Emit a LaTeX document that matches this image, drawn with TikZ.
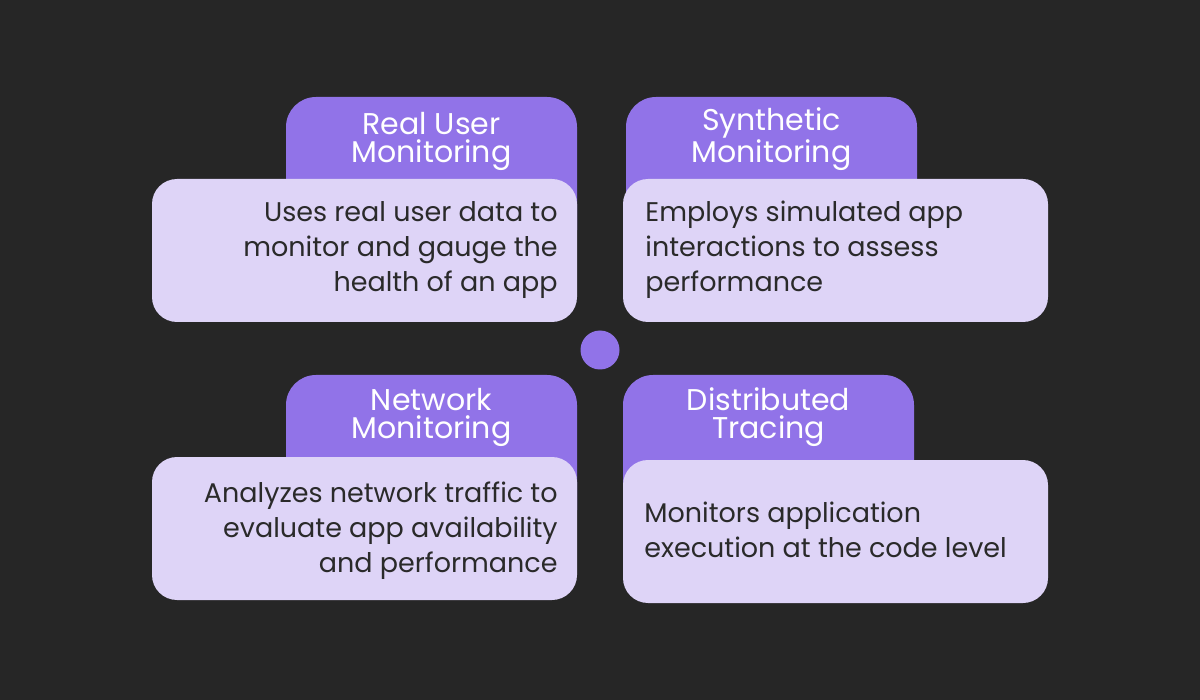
\documentclass[tikz,border=0pt]{standalone}
\usepackage{fontspec}
\setmainfont{Poppins}
\definecolor{bg}{HTML}{262626}
\definecolor{tabc}{HTML}{9173E8}
\definecolor{card}{HTML}{DED4F7}
\definecolor{ink}{HTML}{2A2A2A}
\begin{document}
\begin{tikzpicture}[x=0.5pt,y=-0.5pt,
 tabbox/.style={fill=tabc, rounded corners=15pt},
 cardbox/.style={fill=card, rounded corners=12.5pt},
 title/.style={text=white, font=\fontsize{15}{14}\selectfont, align=center, inner sep=0pt, anchor=base},
 bodyr/.style={text=ink, font=\fontsize{13.5}{17.5}\selectfont, inner sep=0pt, align=right, anchor=base east},
 bodyl/.style={text=ink, font=\fontsize{13.5}{17.5}\selectfont, inner sep=0pt, align=left, anchor=base west}]
\useasboundingbox (0,0) rectangle (1200,700);
\fill[bg] (0,0) rectangle (1200,700);
% top-left
\fill[tabbox] (286,97) rectangle (577,260);
\fill[cardbox] (152,179) rectangle (577,322);
\node[title] (t1) at (431.5,163) {Real User\\Monitoring};
\node[bodyr] (b1) at (558,292) {Uses real user data to\\monitor and gauge the\\health of an app};
% top-right
\fill[tabbox] (626,97) rectangle (917,260);
\fill[cardbox] (623,179) rectangle (1048,322);
\node[title] (t2) at (771.5,163) {Synthetic\\Monitoring};
\node[bodyl] (b2) at (645,292) {Employs simulated app\\interactions to assess\\performance};
% centre dot
\fill[tabc] (600,350) circle[radius=19.5];
% bottom-left
\fill[tabbox] (286,375) rectangle (577,540);
\fill[cardbox] (152,457) rectangle (577,600);
\node[title] (t3) at (431.5,438) {Network\\Monitoring};
\node[bodyr] (b3) at (558,572) {Analyzes network traffic to\\evaluate app availability\\and performance};
% bottom-right
\fill[tabbox] (623,375) rectangle (914,540);
\fill[cardbox] (623,460) rectangle (1048,603);
\node[title] (t4) at (768.5,438) {Distributed\\Tracing};
\node[bodyl] (b4) at (644,557) {Monitors application\\execution at the code level};
\end{tikzpicture}
\end{document}
